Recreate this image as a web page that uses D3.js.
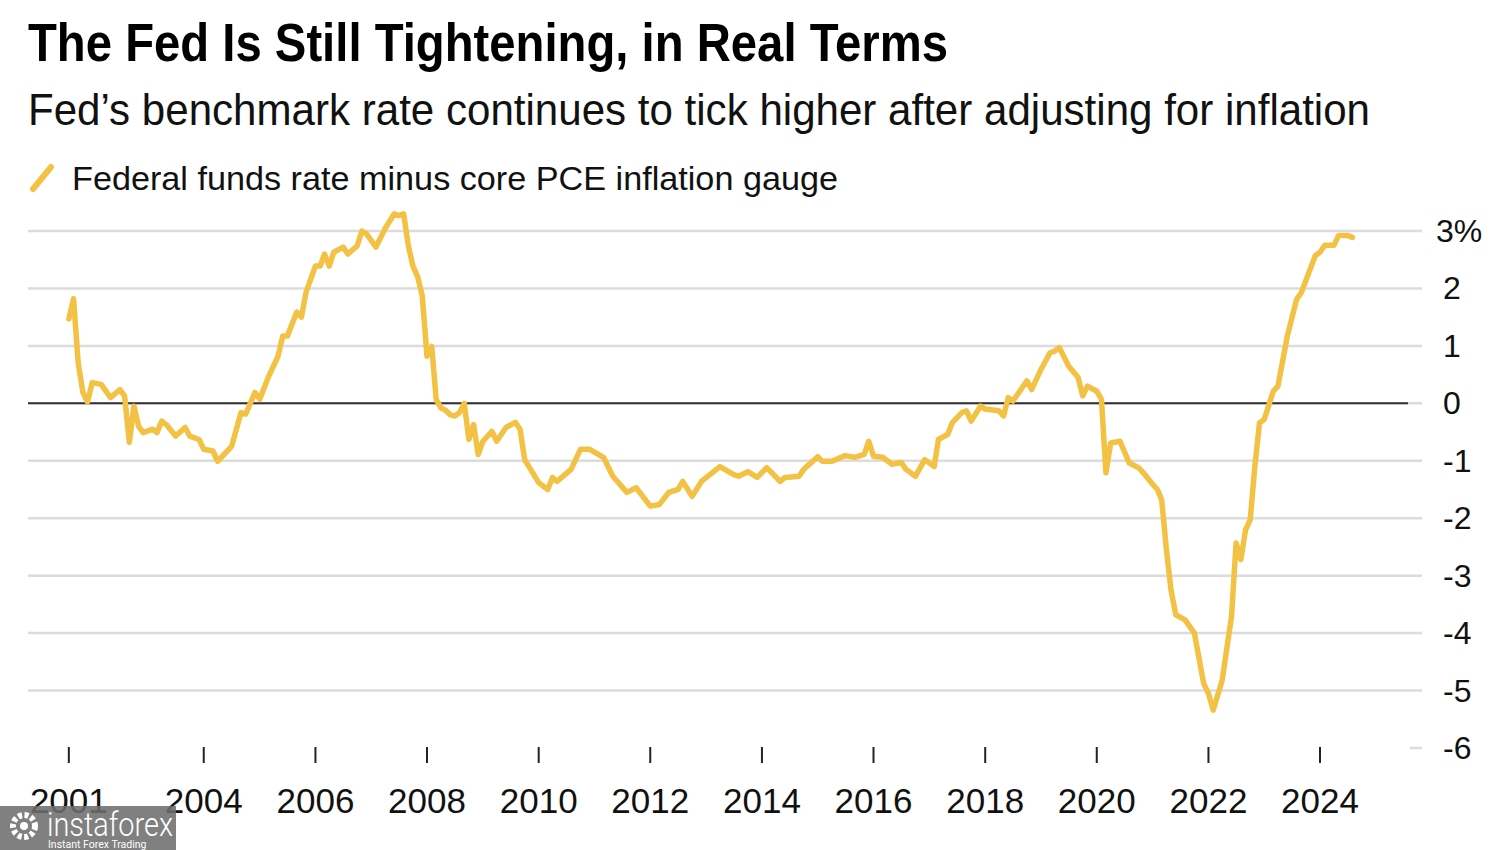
<!DOCTYPE html>
<html>
<head>
<meta charset="utf-8">
<script src="https://cdn.jsdelivr.net/npm/d3@7"></script>
<style>
  html, body { margin: 0; padding: 0; background: #fff; }
  svg { display: block; font-family: "Liberation Sans", Arial, Helvetica, sans-serif; }
</style>
</head>
<body>
<svg id="chart" width="1500" height="850"></svg>
<script>
// ---- Data ----
const titleText = "The Fed Is Still Tightening, in Real Terms";
const subtitleText = "Fed\u2019s benchmark rate continues to tick higher after adjusting for inflation";
const legendText = "Federal funds rate minus core PCE inflation gauge";

const months = [
  "2001-08","2001-09","2001-10","2001-11","2001-12","2002-01","2002-03","2002-05","2002-07","2002-08",
  "2002-09","2002-10","2002-11","2002-12","2003-02","2003-03","2003-04","2003-05","2003-07","2003-09",
  "2003-10","2003-12","2004-01","2004-03","2004-04","2004-07","2004-09","2004-10","2004-12","2005-01",
  "2005-03","2005-05","2005-06","2005-07","2005-09","2005-10","2005-11","2006-01","2006-02","2006-03",
  "2006-04","2006-05","2006-07","2006-08","2006-10","2006-11","2006-12","2007-02","2007-04","2007-05",
  "2007-06","2007-07","2007-08","2007-09","2007-10","2007-11","2007-12","2008-01","2008-02","2008-03",
  "2008-04","2008-05","2008-06","2008-07","2008-08","2008-09","2008-10","2008-11","2008-12","2009-01",
  "2009-03","2009-04","2009-06","2009-08","2009-09","2009-10","2010-01","2010-03","2010-04","2010-05",
  "2010-08","2010-10","2010-12","2011-03","2011-05","2011-08","2011-10","2012-01","2012-03","2012-05",
  "2012-07","2012-08","2012-10","2012-12","2013-04","2013-07","2013-08","2013-10","2013-12","2014-02",
  "2014-05","2014-06","2014-09","2014-10","2015-01","2015-02","2015-04","2015-07","2015-09","2015-11",
  "2015-12","2016-01","2016-03","2016-05","2016-07","2016-08","2016-10","2016-12","2017-02","2017-03",
  "2017-05","2017-06","2017-08","2017-09","2017-10","2017-12","2018-01","2018-04","2018-05","2018-06",
  "2018-07","2018-10","2018-11","2019-01","2019-03","2019-04","2019-05","2019-07","2019-09","2019-10",
  "2019-11","2020-01","2020-02","2020-03","2020-04","2020-06","2020-08","2020-10","2020-11","2021-01",
  "2021-02","2021-03","2021-04","2021-05","2021-06","2021-08","2021-10","2021-12","2022-01","2022-02",
  "2022-04","2022-06","2022-07","2022-08","2022-09","2022-10","2022-11","2022-12","2023-01","2023-03",
  "2023-04","2023-06","2023-08","2023-09","2023-12","2024-01","2024-02","2024-04","2024-05","2024-07",
  "2024-08"
];
const realRate = [
  1.47, 1.82, 0.71, 0.19, 0.02, 0.36, 0.33, 0.10, 0.24, 0.13,
  -0.68, -0.05, -0.40, -0.51, -0.45, -0.51, -0.31, -0.37, -0.57, -0.42,
  -0.57, -0.63, -0.80, -0.83, -1.01, -0.75, -0.16, -0.19, 0.19, 0.07,
  0.47, 0.82, 1.17, 1.17, 1.59, 1.50, 1.94, 2.39, 2.39, 2.60,
  2.39, 2.63, 2.72, 2.60, 2.74, 3.00, 2.95, 2.72, 3.04, 3.17,
  3.30, 3.27, 3.30, 2.74, 2.39, 2.20, 1.87, 0.82, 0.99, 0.07,
  -0.08, -0.12, -0.20, -0.22, -0.16, 0.00, -0.63, -0.37, -0.89, -0.66,
  -0.49, -0.66, -0.42, -0.33, -0.45, -0.98, -1.38, -1.50, -1.29, -1.36,
  -1.15, -0.80, -0.80, -0.94, -1.27, -1.55, -1.47, -1.79, -1.76, -1.55,
  -1.50, -1.36, -1.62, -1.36, -1.10, -1.24, -1.27, -1.19, -1.29, -1.12,
  -1.36, -1.29, -1.27, -1.15, -0.93, -1.01, -1.01, -0.91, -0.94, -0.89,
  -0.66, -0.92, -0.94, -1.06, -1.03, -1.15, -1.27, -0.98, -1.10, -0.63,
  -0.54, -0.33, -0.16, -0.13, -0.31, -0.05, -0.10, -0.13, -0.22, 0.10,
  0.04, 0.39, 0.24, 0.59, 0.88, 0.91, 0.97, 0.65, 0.45, 0.13,
  0.30, 0.21, 0.07, -1.21, -0.69, -0.66, -1.04, -1.12, -1.21, -1.41,
  -1.50, -1.68, -2.55, -3.25, -3.68, -3.77, -4.00, -4.88, -5.05, -5.34,
  -4.82, -3.71, -2.43, -2.72, -2.20, -2.03, -1.09, -0.34, -0.28, 0.21,
  0.30, 1.17, 1.81, 1.93, 2.57, 2.63, 2.75, 2.75, 2.92, 2.92,
  2.89
];
const yTicks = [3, 2, 1, 0, -1, -2, -3, -4, -5, -6];
const yTickLabels = ["3%", "2", "1", "0", "-1", "-2", "-3", "-4", "-5", "-6"];
const xTickMonths = ["2001-08","2004-01","2006-01","2008-01","2010-01","2012-01","2014-01","2016-01","2018-01","2020-01","2022-01","2024-01"];
const xTickLabels = ["2001","2004","2006","2008","2010","2012","2014","2016","2018","2020","2022","2024"];

// ---- Drawing ----
const parse = d3.timeParse("%Y-%m");
const data = months.map((m, i) => ({ date: parse(m), value: realRate[i] }));

const LINE_COLOR = "#f3c244";
const svg = d3.select("#chart");

const x = d3.scaleTime()
  .domain([parse("2008-01"), parse("2024-01")])
  .range([427, 1320]);
const y = d3.scaleLinear()
  .domain([-6, 3])
  .range([748, 231]);

const plotLeft = 28, plotRight = 1422;

// Titles
svg.append("text")
  .attr("x", 28).attr("y", 61)
  .attr("font-size", 53).attr("font-weight", "bold").attr("fill", "#000")
  .attr("textLength", 920).attr("lengthAdjust", "spacingAndGlyphs")
  .text(titleText);
svg.append("text")
  .attr("x", 28).attr("y", 125)
  .attr("font-size", 44).attr("fill", "#111")
  .attr("textLength", 1342).attr("lengthAdjust", "spacingAndGlyphs")
  .text(subtitleText);

// Legend
svg.append("line")
  .attr("x1", 33).attr("y1", 189).attr("x2", 51).attr("y2", 167)
  .attr("stroke", LINE_COLOR).attr("stroke-width", 6).attr("stroke-linecap", "round");
svg.append("text")
  .attr("x", 72).attr("y", 190)
  .attr("font-size", 33).attr("fill", "#111")
  .attr("textLength", 766).attr("lengthAdjust", "spacingAndGlyphs")
  .text(legendText);

// Gridlines
const grid = svg.append("g");
grid.selectAll("line").data(yTicks).join("line")
  .attr("x1", d => d === -6 ? 1410 : plotLeft)
  .attr("x2", plotRight)
  .attr("y1", d => y(d)).attr("y2", d => y(d))
  .attr("stroke", "#dcdcdc").attr("stroke-width", 2.5);
// zero line
svg.append("line")
  .attr("x1", plotLeft).attr("x2", 1408)
  .attr("y1", y(0)).attr("y2", y(0))
  .attr("stroke", "#333").attr("stroke-width", 2);

// Y labels
svg.append("g").selectAll("text").data(yTicks).join("text")
  .attr("x", (d, i) => i === 0 ? 1436 : 1443)
  .attr("y", d => y(d) + 11)
  .attr("font-size", 32).attr("fill", "#111")
  .text((d, i) => yTickLabels[i]);

// X ticks and labels
const xt = svg.append("g");
xt.selectAll("line").data(xTickMonths).join("line")
  .attr("x1", d => x(parse(d))).attr("x2", d => x(parse(d)))
  .attr("y1", 747).attr("y2", 763)
  .attr("stroke", "#222").attr("stroke-width", 2);
xt.selectAll("text").data(xTickMonths).join("text")
  .attr("x", d => x(parse(d))).attr("y", 813)
  .attr("text-anchor", "middle")
  .attr("font-size", 35).attr("fill", "#111")
  .text((d, i) => xTickLabels[i]);

// Series line
const line = d3.line().x(d => x(d.date)).y(d => y(d.value));
svg.append("path")
  .datum(data)
  .attr("d", line)
  .attr("fill", "none")
  .attr("stroke", LINE_COLOR)
  .attr("stroke-width", 5.5)
  .attr("stroke-linejoin", "round")
  .attr("stroke-linecap", "round");

// Watermark
const wm = svg.append("g");
wm.append("rect").attr("x", 0).attr("y", 806).attr("width", 176).attr("height", 44)
  .attr("fill", "#6e6e6e").attr("opacity", 0.88);
wm.append("circle").attr("cx", 24).attr("cy", 826).attr("r", 11)
  .attr("fill", "none").attr("stroke", "#fff").attr("stroke-width", 6)
  .attr("stroke-dasharray", "4 2.5");
wm.append("circle").attr("cx", 24).attr("cy", 826).attr("r", 4).attr("fill", "#fff");
wm.append("text").attr("x", 47).attr("y", 836)
  .attr("font-size", 33).attr("fill", "#fff").attr("font-family", "Roboto, sans-serif")
  .attr("font-weight", 300)
  .attr("textLength", 126).attr("lengthAdjust", "spacingAndGlyphs")
  .text("instaforex");
wm.append("text").attr("x", 48).attr("y", 848)
  .attr("font-size", 10.5).attr("fill", "#fff").attr("font-family", "Roboto, sans-serif")
  .text("Instant Forex Trading");
</script>
</body>
</html>
